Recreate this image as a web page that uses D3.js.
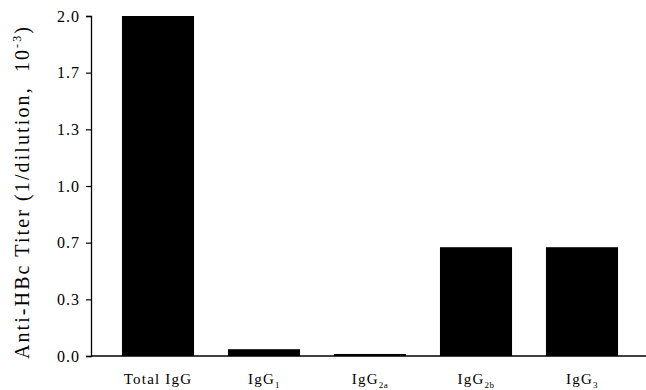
<!DOCTYPE html>
<html>
<head>
<meta charset="utf-8">
<script src="https://cdn.jsdelivr.net/npm/d3@7"></script>
<style>
  html, body { margin: 0; padding: 0; background: #fff; }
  svg { display: block; }
  text, tspan { font-family: "Liberation Serif", "DejaVu Serif", serif; fill: #000; }
</style>
</head>
<body>
<svg id="chart" width="646" height="390"></svg>
<script>
// Antibody subclass titers
const categories = ["Total IgG", "IgG1", "IgG2a", "IgG2b", "IgG3"];
const labelBase = ["Total IgG", "IgG", "IgG", "IgG", "IgG"];
const labelSub = ["", "1", "2a", "2b", "3"];
const titers = [2.0, 0.04, 0.012, 0.64, 0.64];
const tickValues = [0, 1/3, 2/3, 1, 4/3, 5/3, 2];
const tickLabels = ["0.0", "0.3", "0.7", "1.0", "1.3", "1.7", "2.0"];

const svg = d3.select("#chart");
const yTop = 16, yBottom = 356, xLeft = 91, xRight = 646;

const x = d3.scaleBand()
  .domain(categories)
  .range([105, 635])
  .paddingInner(0.32)
  .paddingOuter(0.16);

const y = d3.scaleLinear().domain([0, 2]).range([yBottom, yTop]);

// bars
svg.append("g").selectAll("rect")
  .data(categories)
  .join("rect")
  .attr("x", d => x(d))
  .attr("width", x.bandwidth())
  .attr("y", (d, i) => y(titers[i]))
  .attr("height", (d, i) => yBottom - y(titers[i]))
  .attr("fill", "#000");

// y axis
const yAxis = d3.axisLeft(y)
  .tickValues(tickValues)
  .tickFormat((d, i) => tickLabels[i])
  .tickSize(5)
  .tickPadding(6);
const gy = svg.append("g")
  .attr("transform", `translate(${xLeft},0)`)
  .call(yAxis);
gy.select(".domain").attr("stroke", "#000").attr("stroke-width", 1.3);
gy.selectAll(".tick line").attr("stroke", "#000").attr("stroke-width", 1.2);
gy.selectAll(".tick text")
  .style("font-family", "'Liberation Serif', serif")
  .style("font-size", "16px")
  .style("letter-spacing", "1px")
  .attr("fill", "#000");

// x baseline
svg.append("line")
  .attr("x1", xLeft).attr("x2", xRight)
  .attr("y1", yBottom).attr("y2", yBottom)
  .attr("stroke", "#000").attr("stroke-width", 1.3);

// category labels with subscripts
const xl = svg.append("g").selectAll("text")
  .data(categories)
  .join("text")
  .attr("x", d => x(d) + x.bandwidth() / 2)
  .attr("y", 384)
  .attr("text-anchor", "middle")
  .style("font-size", "15px")
  .style("letter-spacing", "1.2px");
xl.append("tspan").text((d, i) => labelBase[i]);
xl.append("tspan")
  .attr("dy", 4)
  .style("font-size", "9px")
  .style("letter-spacing", "0.5px")
  .text((d, i) => labelSub[i]);

// y axis title
const title = svg.append("text")
  .attr("transform", `translate(29,192) rotate(-90)`)
  .attr("text-anchor", "middle")
  .style("font-size", "20px")
  .style("white-space", "pre")
  .style("letter-spacing", "2.1px");
title.append("tspan").text("Anti-HBc Titer (1/dilution,  10");
title.append("tspan").attr("dy", -8).style("font-size", "12px").text("-3");
title.append("tspan").attr("dy", 8).text(")");
</script>
</body>
</html>
